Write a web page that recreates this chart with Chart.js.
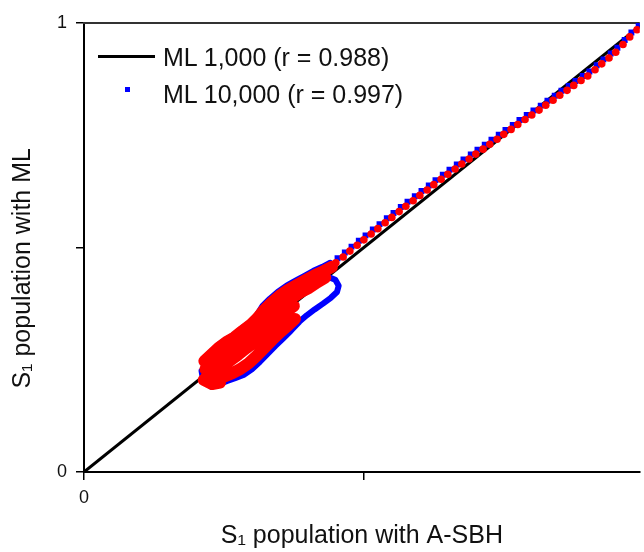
<!DOCTYPE html>
<html><head><meta charset="utf-8">
<script src="https://cdn.jsdelivr.net/npm/chart.js@4.4.1/dist/chart.umd.min.js"></script>
<style>
html,body{margin:0;padding:0;background:#fff;overflow:hidden}
#wrap{position:relative;width:644px;height:552px}
#chart{position:absolute;left:0;top:0}
.lg{position:absolute;font-family:'Liberation Sans',Arial,sans-serif;font-size:25px;line-height:30px;color:#111;white-space:nowrap}
.sw{position:absolute}
</style></head><body>
<div id="wrap"><canvas id="chart" width="644" height="552"></canvas><div id="legend"></div></div>
<script>
// ---- labels ----
const seriesLabels = ['ML 1,000 (r = 0.988)', 'ML 10,000 (r = 0.997)'];
const xTitle = 'S\u2081 population with A-SBH';
const yTitle = 'S\u2081 population with ML      ';
const xTickValues = [0, 0.5];
const xTickLabels = ['0', ''];
const yTickValues = [0, 0.5, 1];
const yTickLabels = ['0', '', '1'];

// ---- ML 1,000 (black line) ----
const mlX = [0, 1];
const mlY = [0, 1];

// ---- ML 10,000 (blue) : dense cluster trajectory (null = break) ----
const blueClusterX = [0.213,0.226,0.238,0.252,0.267,0.281,0.295,0.308,0.319,0.332,0.346,0.362,0.378,0.394,0.410,0.426,0.440, null,
  0.210,0.213,0.227,0.242,0.256,0.270,0.285,0.300,0.314,0.328,0.342,0.357,0.370,
  0.385,0.398,0.412,0.427,0.441,0.452,0.455,0.449,0.437,0.425];
const blueClusterY = [0.252,0.267,0.281,0.294,0.305,0.319,0.332,0.348,0.370,0.386,0.401,0.415,0.426,0.437,0.448,0.457,0.466, null,
  0.225,0.203,0.190,0.196,0.203,0.209,0.216,0.229,0.245,0.263,0.281,0.299,0.315,
  0.335,0.349,0.362,0.375,0.388,0.401,0.415,0.428,0.434,0.433];
// ---- ML 10,000 (blue) : upper trajectory ----
const blueUpperX = [0.453,0.466,0.478,0.491,0.503,0.516,0.528,0.541,0.553,0.566,0.578,0.591,0.603,0.616,0.628,0.641,0.653,0.666,0.678,0.691,0.703,0.716,0.728,0.741,0.753,0.766,0.778,0.791,0.803,0.816,0.828,0.841,0.853,0.866,0.878,0.891,0.903,0.916,0.928,0.941,0.953,0.966,0.978,0.991];
const blueUpperY = [0.476,0.489,0.502,0.515,0.527,0.540,0.552,0.565,0.577,0.590,0.602,0.614,0.626,0.638,0.650,0.662,0.673,0.685,0.696,0.707,0.718,0.729,0.740,0.751,0.762,0.773,0.784,0.795,0.805,0.816,0.827,0.838,0.849,0.860,0.871,0.882,0.892,0.906,0.919,0.932,0.945,0.962,0.979,0.995];

// ---- red series : dense cluster trajectory (null = break) ----
const redClusterX = [0.215,0.228,0.240,0.254,0.269,0.283,0.297,0.310,0.322,0.335,0.349,0.365,0.381,0.397,0.413,0.429,0.443, null,
  0.217,0.231,0.246,0.260,0.274,0.288,0.302,0.317,0.331,0.345,0.359,0.374,0.388,0.402,0.416,0.431, null,
  0.219,0.233,0.247,0.262,0.276,0.290,0.304,0.319,0.333,0.347,0.361,0.375, null,
  0.222,0.237,0.251,0.265,0.279,0.294,0.308,0.322,0.336,0.351,0.365,0.377, null,
  0.214,0.229,0.243];
const redClusterY = [0.247,0.262,0.276,0.289,0.300,0.314,0.327,0.343,0.361,0.377,0.392,0.406,0.417,0.428,0.439,0.448,0.457, null,
  0.229,0.242,0.256,0.269,0.283,0.296,0.309,0.325,0.343,0.361,0.377,0.390,0.401,0.410,0.422,0.433, null,
  0.213,0.224,0.235,0.249,0.262,0.276,0.289,0.305,0.323,0.341,0.357,0.370, null,
  0.200,0.206,0.213,0.220,0.229,0.242,0.258,0.276,0.294,0.312,0.327,0.341, null,
  0.205,0.196,0.199];
// ---- red series : upper trajectory ----
const redUpperX = [0.450,0.463,0.475,0.488,0.500,0.513,0.525,0.538,0.550,0.563,0.575,0.588,0.600,0.613,0.625,0.638,0.650,0.663,0.675,0.688,0.700,0.713,0.725,0.738,0.750,0.763,0.775,0.788,0.800,0.813,0.825,0.838,0.850,0.863,0.875,0.888,0.900,0.913,0.925,0.938,0.950,0.963,0.975,0.988,1.000];
const redUpperY = [0.466,0.479,0.492,0.505,0.517,0.530,0.542,0.555,0.567,0.580,0.592,0.604,0.616,0.628,0.640,0.652,0.663,0.675,0.686,0.697,0.708,0.719,0.730,0.741,0.752,0.763,0.774,0.785,0.795,0.806,0.817,0.828,0.839,0.850,0.861,0.872,0.882,0.896,0.909,0.922,0.935,0.952,0.969,0.985,1.000];

function pts(xs, ys) { return xs.map((x, i) => ({ x: x, y: ys[i] })); }

const FONT = "'Liberation Sans', Arial, sans-serif";
const BLUE = '#0000ff';
const RED = '#ff0000';

const topBorder = {
  id: 'topBorder',
  beforeDatasetsDraw(chart) {
    const { ctx, chartArea } = chart;
    ctx.save();
    ctx.strokeStyle = '#333';
    ctx.lineWidth = 2;
    ctx.beginPath();
    ctx.moveTo(chartArea.left - 1, chartArea.top);
    ctx.lineTo(chartArea.right, chartArea.top);
    ctx.stroke();
    ctx.restore();
  }
};

new Chart(document.getElementById('chart'), {
  type: 'scatter',
  data: {
    datasets: [
      { label: seriesLabels[0], data: pts(mlX, mlY), showLine: true, borderColor: '#000', borderWidth: 3, pointRadius: 0, order: 6 },
      { label: seriesLabels[1], data: pts(blueClusterX, blueClusterY), showLine: true, spanGaps: false, borderColor: BLUE, borderWidth: 6, borderCapStyle: 'round', borderJoinStyle: 'round', pointRadius: 0, order: 5 },
      { label: seriesLabels[1], data: pts(blueUpperX, blueUpperY), showLine: false, pointStyle: 'rect', pointRadius: 4.2, backgroundColor: BLUE, borderColor: BLUE, borderWidth: 0, order: 4 },
      { label: '', data: pts(redClusterX, redClusterY), showLine: true, spanGaps: false, borderColor: RED, borderWidth: 12, borderCapStyle: 'round', borderJoinStyle: 'round', pointRadius: 0, order: 3 },
      { label: '', data: pts(redUpperX, redUpperY), showLine: false, pointStyle: 'circle', pointRadius: 3.8, backgroundColor: RED, borderColor: RED, borderWidth: 0, order: 2 }
    ]
  },
  options: {
    responsive: false,
    animation: false,
    devicePixelRatio: 1,
    layout: { padding: { top: 23, left: 0, right: 0, bottom: 0 } },
    plugins: { legend: { display: false }, tooltip: { enabled: false } },
    scales: {
      x: {
        type: 'linear', min: 0, max: 0.993,
        afterBuildTicks: s => { s.ticks = xTickValues.map(v => ({ value: v })); },
        afterFit: s => { s.height = 80; },
        ticks: { callback: (v, i) => xTickLabels[i], font: { family: FONT, size: 18 }, color: '#111', padding: 7, maxRotation: 0, autoSkip: false },
        grid: { display: true, drawOnChartArea: false, drawTicks: true, tickLength: 8, color: '#000', lineWidth: 1.5 },
        border: { display: true, color: '#000', width: 2 },
        title: { display: true, text: xTitle, font: { family: FONT, size: 25 }, color: '#111', padding: { top: 0, bottom: 1 } }
      },
      y: {
        type: 'linear', min: 0, max: 1,
        afterBuildTicks: s => { s.ticks = yTickValues.map(v => ({ value: v })); },
        afterFit: s => { s.width = 84; },
        ticks: { callback: (v, i) => yTickLabels[i], font: { family: FONT, size: 18 }, color: '#111', padding: 9, autoSkip: false },
        grid: { display: true, drawOnChartArea: false, drawTicks: true, tickLength: 8, color: '#000', lineWidth: 1.5 },
        border: { display: true, color: '#000', width: 2 },
        title: { display: true, text: yTitle, font: { family: FONT, size: 25 }, color: '#111', padding: { top: 8, bottom: 0 } }
      }
    }
  },
  plugins: [topBorder]
});

// ---- legend (HTML) ----
const lg = document.getElementById('legend');
lg.innerHTML =
  '<div class="sw" style="left:98px;top:55px;width:57px;height:3px;background:#000"></div>' +
  '<div class="lg" style="left:163px;top:42px">' + seriesLabels[0] + '</div>' +
  '<div class="sw" style="left:125px;top:87px;width:5px;height:5px;background:' + BLUE + '"></div>' +
  '<div class="lg" style="left:163px;top:79px">' + seriesLabels[1] + '</div>';
</script>
</body></html>
